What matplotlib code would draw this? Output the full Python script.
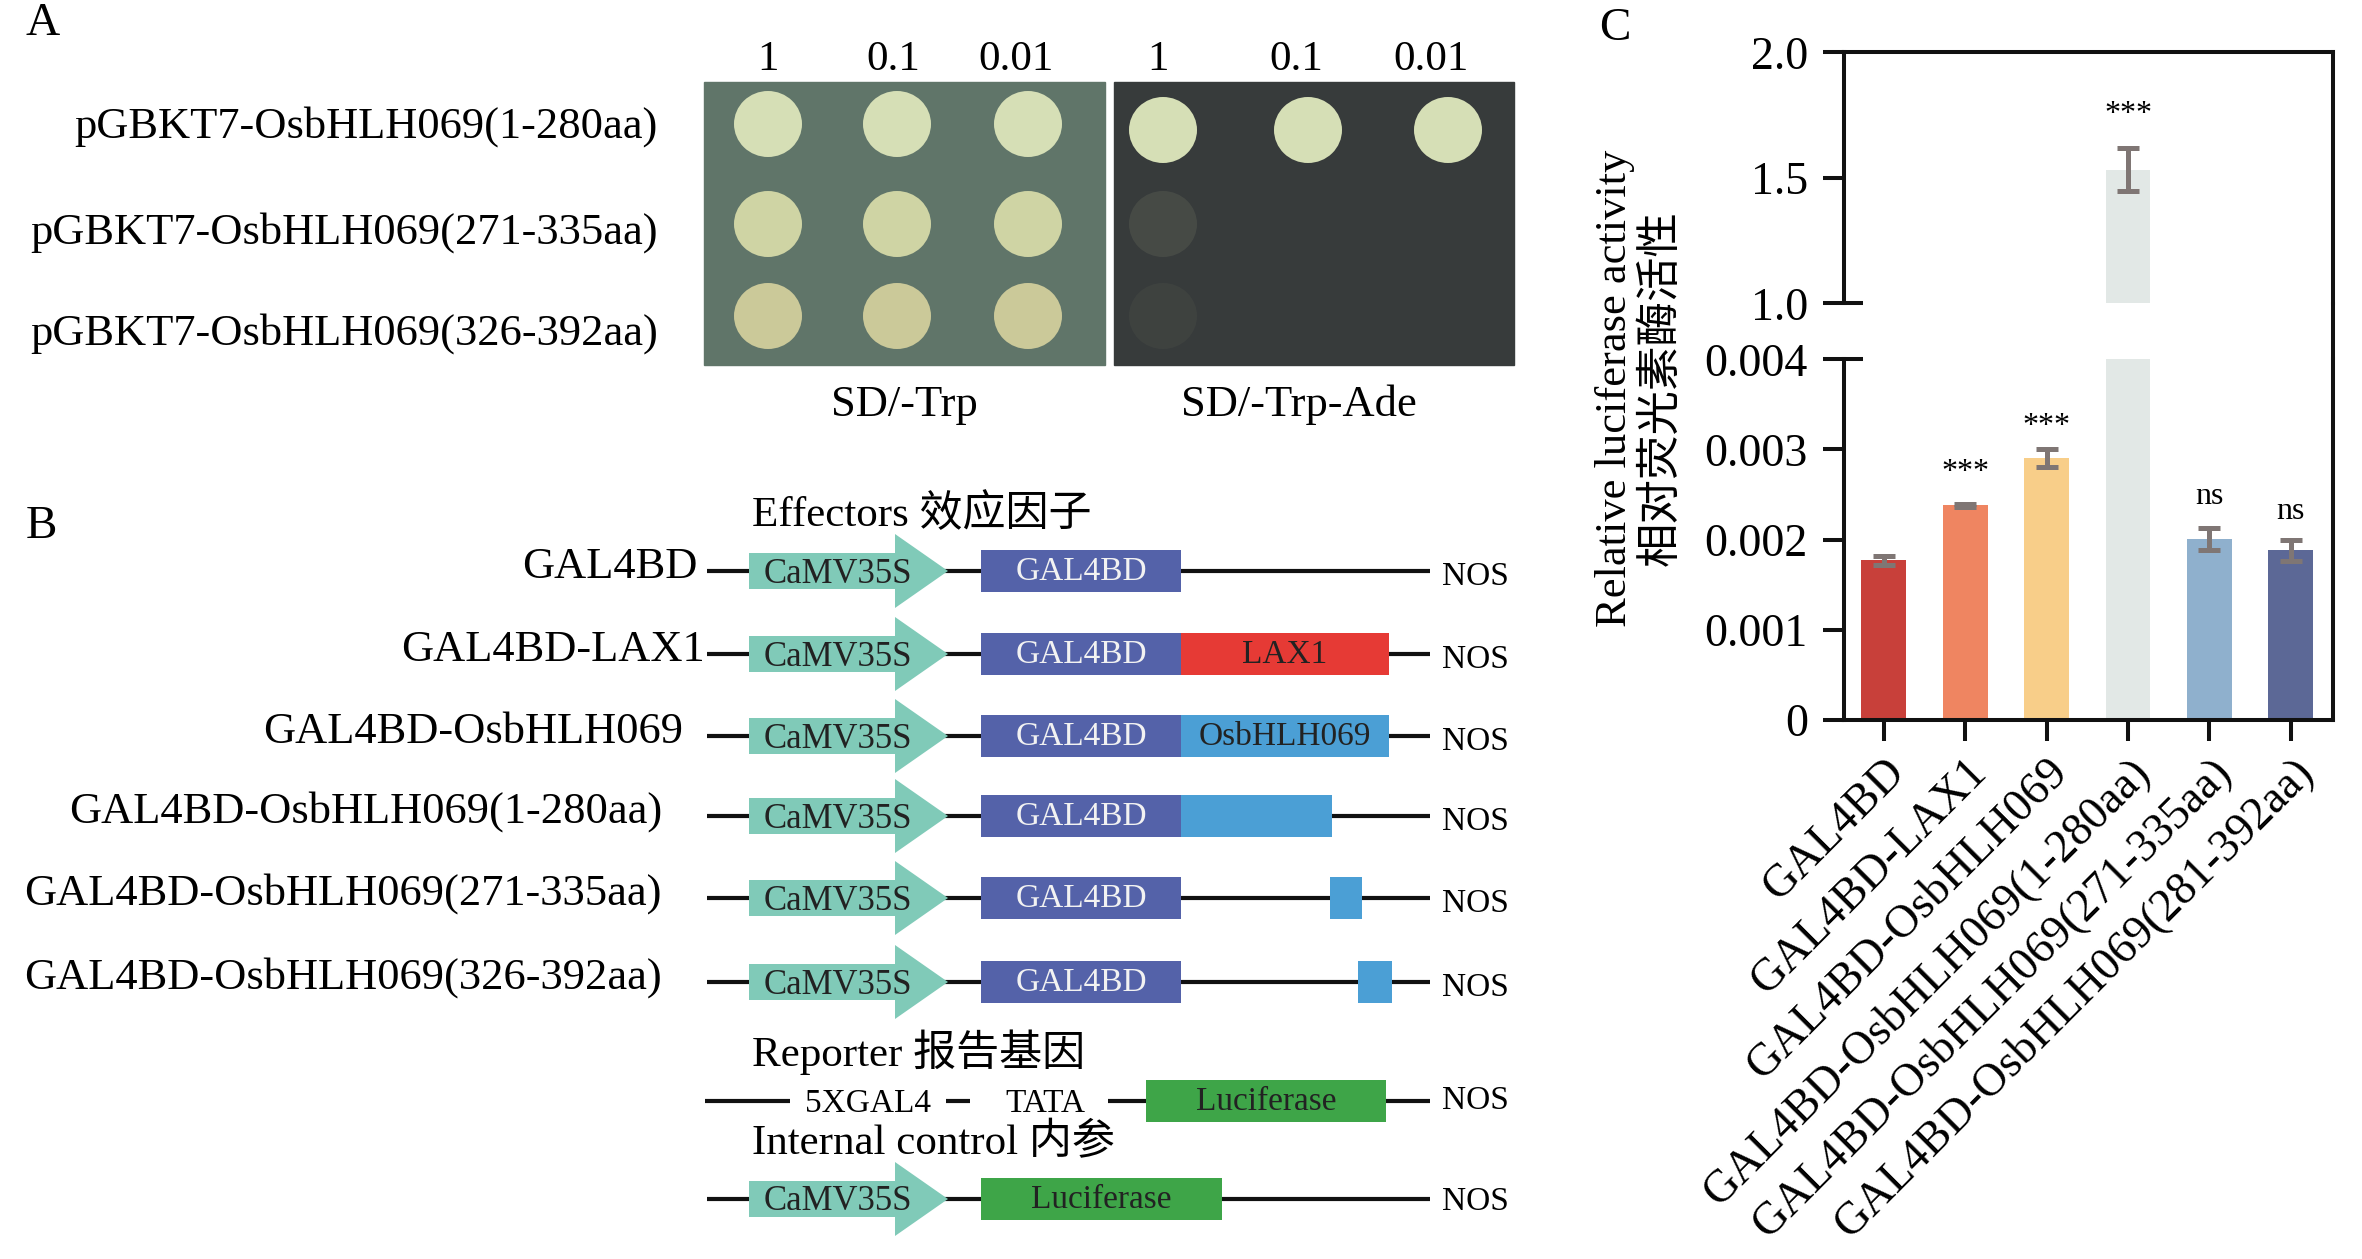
import numpy as np
import matplotlib
matplotlib.use('Agg')
import matplotlib.pyplot as plt
from matplotlib.patches import Rectangle, Ellipse, Polygon

plt.rcParams['font.family'] = ['Liberation Serif', 'Noto Sans CJK SC']

# ---- panel A: yeast spot assay ----
strains = ['pGBKT7-OsbHLH069(1-280aa)', 'pGBKT7-OsbHLH069(271-335aa)', 'pGBKT7-OsbHLH069(326-392aa)']
dilutions = ['1', '0.1', '0.01']
media = ['SD/-Trp', 'SD/-Trp-Ade']
# growth (opacity of spot) per strain, columns = 3 dilutions x 2 media
growth = [[1.0, 1.0, 1.0, 1.0, 1.0, 1.0],
          [1.0, 1.0, 1.0, 0.10, 0.0, 0.0],
          [1.0, 1.0, 1.0, 0.05, 0.0, 0.0]]

# ---- panel B: constructs ----
effectors = ['GAL4BD', 'GAL4BD-LAX1', 'GAL4BD-OsbHLH069', 'GAL4BD-OsbHLH069(1-280aa)',
             'GAL4BD-OsbHLH069(271-335aa)', 'GAL4BD-OsbHLH069(326-392aa)']
fusion_labels = ['', 'LAX1', 'OsbHLH069', '', '', '']

# ---- panel C: dual luciferase ----
samples = ['GAL4BD', 'GAL4BD-LAX1', 'GAL4BD-OsbHLH069', 'GAL4BD-OsbHLH069(1-280aa)',
           'GAL4BD-OsbHLH069(271-335aa)', 'GAL4BD-OsbHLH069(281-392aa)']
activity = [0.00177, 0.00238, 0.00291, 1.533, 0.00201, 0.00188]
errors = [0.00005, 0.00002, 0.00010, 0.084, 0.00012, 0.00012]
signif = ['', '***', '***', '***', 'ns', 'ns']
sig_y = [0, 0.00275, 0.00326, 1.751, 0.00248, 0.00231]
bar_colors = ['#c8403a', '#ef8561', '#f8ce89', '#e2e8e6', '#8fb0cd', '#5c6896']

W, H = 2362, 1259
fig = plt.figure(figsize=(W / 100, H / 100), dpi=100)
ov = fig.add_axes([0, 0, 1, 1])
ov.set_xlim(0, W)
ov.set_ylim(H, 0)
ov.axis('off')

FS = 32
ov.text(43, 24, 'A', fontsize=34, ha='center', va='center')
ov.text(41, 527, 'B', fontsize=34, ha='center', va='center')
ov.text(1615, 29, 'C', fontsize=34, ha='center', va='center')

# plates
plate_x = [(704, 1105), (1114, 1514)]
plate_bg = ['#607569', '#373b3b']
spot_x = [[768, 897, 1028], [1163, 1308, 1448]]
head_x = [[768, 893, 1016], [1158, 1296, 1431]]
row_y = [124, 224, 316]
spot_col = ['#d6dfb6', '#cfd4a4', '#cbc999']
for p in range(2):
    x0, x1 = plate_x[p]
    ov.add_patch(Rectangle((x0, 82), x1 - x0, 283, color=plate_bg[p], zorder=1))
    for j in range(3):
        ov.text(head_x[p][j], 60, dilutions[j], fontsize=31, ha='center', va='center')
        for i in range(3):
            g = growth[i][p * 3 + j]
            if g <= 0:
                continue
            ov.add_patch(Ellipse((spot_x[p][j], row_y[i] + (6 if p == 1 and i == 0 else 0)), 68, 66,
                                 color=spot_col[i], alpha=g, zorder=2, lw=0))
ov.text(904, 405, media[0], fontsize=FS, ha='center', va='center')
ov.text(1299, 405, media[1], fontsize=FS, ha='center', va='center')
for i, s in enumerate(strains):
    ov.text(658, [127, 233, 334][i], s, fontsize=FS, ha='right', va='center')

# constructs
lw_line = 3.0
c_arrow = '#80cab8'
c_bd = '#5462a9'
c_frag = ['', '#e63a35', '#4b9fd5', '#4b9fd5', '#4b9fd5', '#4b9fd5']
frag_span = [None, (1181, 1389), (1181, 1389), (1181, 1332), (1330, 1362), (1358, 1392)]
eff_y = [571, 654, 736, 816, 898, 982]
label_right = [697, 705, 683, 662, 662, 662]


def promoter(y):
    ov.add_patch(Polygon([(749, y - 18), (895, y - 18), (895, y - 37), (948, y),
                          (895, y + 37), (895, y + 18), (749, y + 18)],
                         closed=True, color=c_arrow, zorder=3, lw=0))
    ov.text(838, y + 3, 'CaMV35S', fontsize=25, ha='center', va='center', color='#222', zorder=4)


def box(x0, x1, y, color, label='', tcolor='#222'):
    ov.add_patch(Rectangle((x0, y - 21), x1 - x0, 42, color=color, zorder=3, lw=0))
    if label:
        ov.text((x0 + x1) / 2, y + 1, label, fontsize=24, ha='center', va='center',
                color=tcolor, zorder=4)


ov.text(752, 515, 'Effectors 效应因子', fontsize=31, ha='left', va='center')
for i, name in enumerate(effectors):
    y = eff_y[i]
    ov.plot([707, 1430], [y, y], color='#111', lw=lw_line, zorder=2, solid_capstyle='butt')
    promoter(y)
    box(981, 1181, y, c_bd, 'GAL4BD', tcolor='#f2f2f2')
    if frag_span[i] is not None:
        box(frag_span[i][0], frag_span[i][1], y, c_frag[i], fusion_labels[i])
    ov.text(1442, y + 6, 'NOS', fontsize=24, ha='left', va='center')
    ov.text(label_right[i], y - 4, name, fontsize=FS, ha='right', va='center')

# reporter
ov.text(752, 1052, 'Reporter 报告基因', fontsize=31, ha='left', va='center')
yr = 1101
for x0, x1 in [(705, 790), (946, 970), (1108, 1146), (1385, 1430)]:
    ov.plot([x0, x1], [yr, yr], color='#111', lw=lw_line, solid_capstyle='butt')
ov.text(868, yr + 3, '5XGAL4', fontsize=24, ha='center', va='center')
ov.text(1045, yr + 3, 'TATA', fontsize=24, ha='center', va='center')
box(1146, 1386, yr, '#3ea548', 'Luciferase')
ov.text(1442, yr, 'NOS', fontsize=24, ha='left', va='center')

ov.text(752, 1143, 'Internal control 内参', fontsize=31, ha='left', va='center')
yi = 1199
ov.plot([707, 1430], [yi, yi], color='#111', lw=lw_line, zorder=2, solid_capstyle='butt')
promoter(yi)
box(981, 1222, yi, '#3ea548', 'Luciferase')
ov.text(1442, yi + 3, 'NOS', fontsize=24, ha='left', va='center')

# ---- panel C axes (broken y) ----
xl, xr = 1844, 2333
y_top, y_hi0, y_lo1, y_zero = 52.3, 303.3, 359.3, 720
lo = fig.add_axes([xl / W, 1 - y_zero / H, (xr - xl) / W, (y_zero - y_lo1) / H])
hi = fig.add_axes([xl / W, 1 - y_hi0 / H, (xr - xl) / W, (y_hi0 - y_top) / H])
x = np.arange(len(samples))
spine_lw = 2.9
for ax in (lo, hi):
    ax.set_facecolor('none')
    ax.bar(x, activity, width=0.55, color=bar_colors, zorder=2)
    ax.errorbar(x, activity, yerr=errors, fmt='none', ecolor='#7f7674', elinewidth=3.6,
                capsize=8, capthick=3.6, zorder=3)
    ax.set_xlim(-0.49, 5.52)
    for s in ax.spines.values():
        s.set_linewidth(spine_lw)
        s.set_color('#111')
    ax.tick_params(axis='both', width=spine_lw, length=15, labelsize=33, color='#111', pad=11)

lo.set_ylim(0, 0.004)
lo.set_yticks([0, 0.001, 0.002, 0.003, 0.004])
lo.set_yticklabels(['0', '0.001', '0.002', '0.003', '0.004'])
lo.spines['top'].set_visible(False)
lo.set_xticks(x)
lo.set_xticklabels(samples, rotation=45, ha='right', rotation_mode='anchor', fontsize=33)
lo.tick_params(axis='x', pad=7)

hi.set_ylim(1.0, 2.0)
hi.set_yticks([1.0, 1.5, 2.0])
hi.set_yticklabels(['1.0', '1.5', '2.0'])
hi.spines['bottom'].set_visible(False)
hi.set_xticks([])
# break marks at the ends of the cut left spine, right spine runs across the break
for yb in (y_hi0, y_lo1):
    ov.plot([xl, xl + 19], [yb, yb], color='#111', lw=spine_lw, solid_capstyle='butt')
ov.plot([xr, xr], [y_hi0 - 1, y_lo1 + 1], color='#111', lw=spine_lw, solid_capstyle='butt')

for i, s in enumerate(signif):
    if not s:
        continue
    ax = hi if activity[i] > 1 else lo
    ax.text(i, sig_y[i], s, fontsize=23, ha='center', va='center')

fig.text(1638 / W, 1 - 388 / H, 'Relative luciferase activity\n相对荧光素酶活性', fontsize=32,
         rotation=90, ha='center', va='center', multialignment='center', linespacing=1.15)

fig.savefig('out.png', dpi=100)
